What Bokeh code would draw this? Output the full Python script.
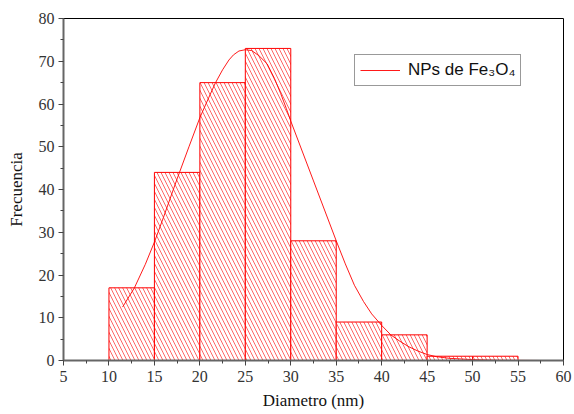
from bokeh.plotting import figure
from bokeh.models import Legend, LegendItem, Range1d, FixedTicker
from bokeh.embed import file_html
from bokeh.resources import INLINE

# Histogram data
bin_left = [10, 15, 20, 25, 30, 35, 40, 45, 50]
bin_right = [15, 20, 25, 30, 35, 40, 45, 50, 55]
counts = [17, 44, 65, 73, 28, 9, 6, 1, 1]

# Fitted curve
fit_x = [11.5, 12.8, 14.0, 15.0, 16.0, 17.5, 18.8, 20.0, 21.0, 21.7, 22.5, 23.2, 23.7,
         24.3, 25.0, 25.7, 26.5, 27.4, 28.2, 28.9, 29.5, 30.0, 32.5, 35.0, 36.0,
         37.0, 38.0, 38.9, 40.0, 41.0, 42.0, 43.0, 44.0, 45.0, 46.0, 47.5, 50.0,
         53.0, 57.5]
fit_y = [12.5, 17.0, 22.5, 27.7, 33.5, 42.5, 50.0, 56.8, 61.6, 64.9, 68.0, 70.3, 71.5,
         72.4, 72.7, 72.5, 71.3, 69.4, 66.0, 62.4, 59.0, 56.0, 42.0, 28.0, 22.6,
         17.6, 13.8, 10.9, 8.2, 6.0, 4.5, 3.2, 2.2, 1.4, 0.9, 0.5, 0.2,
         0.05, 0.0]

x_ticks = [5, 10, 15, 20, 25, 30, 35, 40, 45, 50, 55, 60]
y_ticks = [0, 10, 20, 30, 40, 50, 60, 70, 80]

p = figure(width=574, height=414, output_backend="svg", toolbar_location=None,
           x_range=Range1d(5, 60), y_range=Range1d(0, 80),
           min_border_left=63, min_border_right=11, min_border_top=18, min_border_bottom=54)
p.background_fill_color = "white"
p.border_fill_color = "white"
p.outline_line_color = "black"
p.outline_line_width = 1
p.grid.visible = False

p.quad(left=bin_left, right=bin_right, bottom=0, top=counts,
       fill_color="white", fill_alpha=1.0, line_color="#ff0000", line_width=1,
       hatch_pattern="left_diagonal_line", hatch_color="#ff0000", hatch_alpha=0.6,
       hatch_scale=8, hatch_weight=1)

r = p.line(fit_x, fit_y, line_color="#ff0000", line_width=1, line_alpha=0.9)

for ax in (p.xaxis[0], p.yaxis[0]):
    ax.axis_line_color = "#666666"
    ax.axis_line_width = 2
    ax.major_tick_line_color = "#444444"
    ax.minor_tick_line_color = "#444444"
    ax.major_tick_out = 5
    ax.major_tick_in = 0
    ax.minor_tick_out = 3
    ax.minor_tick_in = 0
    ax.major_label_text_font = "Liberation Serif"
    ax.major_label_text_font_size = "16px"
    ax.major_label_text_color = "#333333"
    ax.axis_label_text_font = "Liberation Serif"
    ax.axis_label_text_font_size = "17px"
    ax.axis_label_text_font_style = "normal"
    ax.axis_label_text_color = "#111111"

p.xaxis.ticker = FixedTicker(ticks=x_ticks, minor_ticks=[7.5 + 5 * i for i in range(11)])
p.yaxis.ticker = FixedTicker(ticks=y_ticks, minor_ticks=[5 + 10 * i for i in range(8)])
p.xaxis.axis_label = "Diametro (nm)"
p.yaxis.axis_label = "Frecuencia"
p.xaxis.major_label_standoff = 5
p.yaxis.major_label_standoff = 4
p.xaxis.axis_label_standoff = 6
p.yaxis.axis_label_standoff = 10

legend = Legend(items=[LegendItem(label="NPs de Fe₃O₄", renderers=[r])],
                location=(291, 274))
legend.border_line_color = "#333333"
legend.border_line_width = 1
legend.background_fill_alpha = 1
legend.label_text_font = "Liberation Sans"
legend.label_text_font_size = "17px"
legend.label_text_color = "#111111"
legend.glyph_width = 40
legend.padding = 5
legend.margin = 0
legend.spacing = 0
legend.label_standoff = 8
p.add_layout(legend, "center")

open("out.html", "w").write(file_html(p, INLINE))
